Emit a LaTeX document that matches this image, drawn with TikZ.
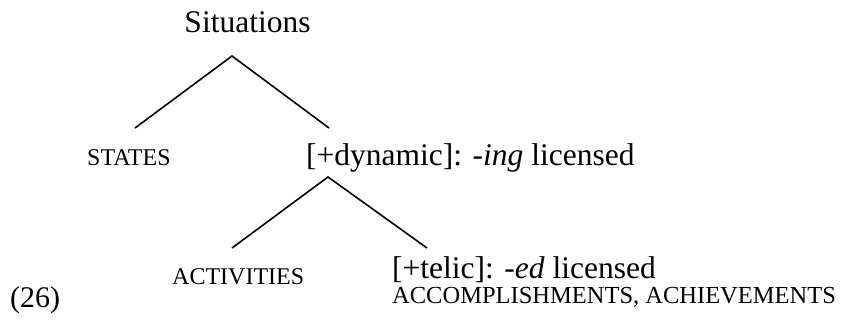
\documentclass[tikz,border=0pt]{standalone}
\usepackage{fontspec}
\setmainfont{Liberation Serif}
\tikzset{
  big/.style={inner sep=0pt, anchor=base west, font=\fontsize{31.5}{36}\selectfont},
  caps/.style={inner sep=0pt, anchor=base west, font=\fontsize{24}{28}\selectfont},
  branch/.style={line width=1.6pt}
}
\begin{document}
\begin{tikzpicture}[x=1pt,y=-1pt]
\useasboundingbox (0,0) rectangle (854,332);
\node[big, anchor=base] (sit) at (247.5,32) {Situations};
\node[caps] (states) at (87,165) {STATES};
\node[big] (dyn) at (306,165) {[+dynamic]: \textit{-ing} licensed};
\node[caps] (act) at (172,284) {ACTIVITIES};
\node[big] (telic) at (392,278) {[+telic]: \textit{-ed} licensed};
\node[caps, font=\fontsize{24.5}{28}\selectfont] (acc) at (392,303) {ACCOMPLISHMENTS, ACHIEVEMENTS};
\node[big, font=\fontsize{30}{34}\selectfont] (num) at (10,307) {(26)};
\coordinate (t1) at (232,56);
\coordinate (l1) at (135,128);
\coordinate (r1) at (329,128);
\coordinate (t2) at (328,177);
\coordinate (l2) at (232,248);
\coordinate (r2) at (427,248);
\draw[branch] (l1) -- (t1) -- (r1);
\draw[branch] (l2) -- (t2) -- (r2);
\end{tikzpicture}
\end{document}
